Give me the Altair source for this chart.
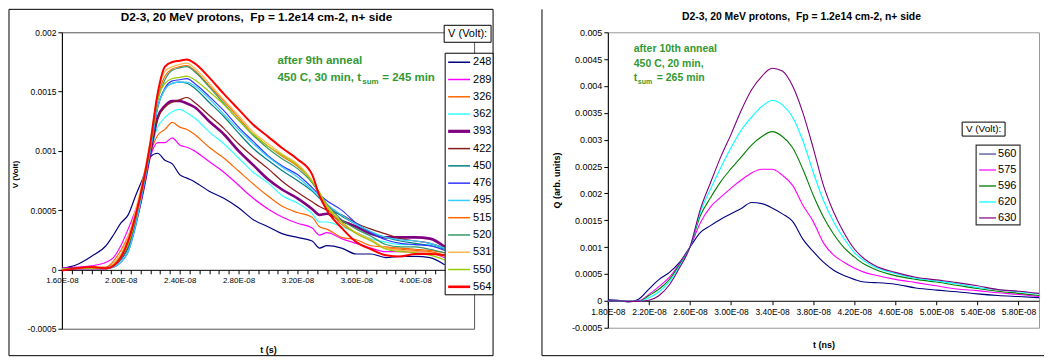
import altair as alt
import pandas as pd

FONT = "Liberation Sans"
GREEN = "#339933"
TITLE_TEXT = "D2-3, 20 MeV protons,\u00a0 Fp = 1.2e14 cm-2, n+ side"

# ---------------- Left panel data (t in ns, V in Volt) ----------------
T_LEFT = [16, 17, 18, 19, 19.5, 20, 20.5, 21, 21.5, 22, 22.5, 23, 23.5, 24, 24.5, 25,
          26, 27, 28, 29, 30, 31, 32, 33, 33.5, 34, 35, 36, 37, 38, 39, 40, 41, 42]

LEFT_SERIES = ["248", "289", "326", "362", "393", "422", "450", "476", "495", "515",
               "520", "531", "550", "564"]
LEFT_COLORS = ["#000080", "#FF00FF", "#FF6600", "#33FFFF", "#800080", "#8B1A1A", "#008080",
               "#3333FF", "#33CCFF", "#FF6600", "#339966", "#FFB84D", "#99CC00", "#FF0000"]
LEFT_WIDTHS = [1.2, 1.2, 1.2, 1.2, 2.6, 1.2, 1.2, 1.2, 1.2, 1.2, 1.2, 1.2, 1.2, 2.0]
LEFT_LEGEND_WIDTHS = [1.5, 1.5, 1.5, 1.5, 3.2, 1.5, 1.5, 1.5, 1.5, 1.5, 1.5, 1.5, 1.5, 2.6]

V248 = [0.00001, 0.00004, 0.00011, 0.0002, 0.00029, 0.00039, 0.00046, 0.00062, 0.00077, 0.00095,
        0.00098, 0.00092, 0.00089, 0.0008, 0.00077, 0.00074, 0.00066, 0.0006, 0.00052, 0.00042,
        0.00036, 0.0003, 0.00027, 0.00024, 0.00018, 0.0002, 0.00018, 0.00013, 0.00013, 0.0001,
        0.00011, 0.00011, 0.0001, 0.00004]
V289 = [0.00001, 0.00002, 0.00003, 0.00006, 0.0001, 0.0002, 0.00034, 0.0005, 0.00068, 0.00095,
        0.00107, 0.00107, 0.00111, 0.00105, 0.00103, 0.001, 0.00091, 0.00082, 0.00071, 0.0006,
        0.00051, 0.00044, 0.00039, 0.00035, 0.00029, 0.00031, 0.00026, 0.00022, 0.00018, 0.00015,
        0.00015, 0.00015, 0.00014, 0.0001]
V326 = [0.0, 0.00001, 0.00002, 0.00002, 0.00007, 0.00016, 0.00028, 0.00045, 0.00068, 0.00097,
        0.00113, 0.00118, 0.00124, 0.0012, 0.00118, 0.00114, 0.00103, 0.00094, 0.00083, 0.00072,
        0.00062, 0.00053, 0.00048, 0.00044, 0.00036, 0.00034, 0.00027, 0.00025, 0.0002, 0.00019,
        0.00018, 0.00017, 0.00016, 0.00014]
V362 = [0.0, 0.00001, 0.00001, 0.00001, 0.00005, 0.00013, 0.00025, 0.00043, 0.00067, 0.00098,
        0.0012, 0.00128, 0.00133, 0.00135, 0.00132, 0.00128, 0.00116, 0.00106, 0.00094, 0.00082,
        0.00073, 0.00062, 0.00056, 0.00047, 0.0004, 0.0004, 0.00036, 0.00031, 0.00026, 0.00023,
        0.00021, 0.00021, 0.00021, 0.00017]
V393 = [0.0, 0.00001, 0.00001, 0.00001, 0.00004, 0.0001, 0.00021, 0.0004, 0.00066, 0.00098,
        0.00128, 0.00138, 0.00142, 0.00142, 0.0014, 0.00137, 0.00125, 0.00114, 0.001, 0.00088,
        0.00076, 0.00067, 0.0006, 0.00051, 0.00046, 0.00047, 0.00041, 0.00036, 0.0003, 0.00027,
        0.00027, 0.00027, 0.00026, 0.00019]
V422 = [0.0, 0.00001, 0.00001, 0.00001, 0.00004, 0.0001, 0.0002, 0.00041, 0.00068, 0.001,
        0.00127, 0.00137, 0.00141, 0.00143, 0.00145, 0.00141, 0.0013, 0.00119, 0.00106, 0.00095,
        0.00085, 0.00074, 0.00065, 0.00057, 0.00053, 0.0005, 0.00046, 0.00039, 0.00034, 0.0003,
        0.00026, 0.00024, 0.00022, 0.00018]
V450 = [0.0, 0.00001, 0.00001, 0.00001, 0.00003, 0.00008, 0.00018, 0.00039, 0.00068, 0.00101,
        0.00136, 0.00152, 0.00157, 0.00158, 0.00157, 0.00153, 0.00141, 0.00129, 0.00115, 0.00102,
        0.00092, 0.00083, 0.00075, 0.00066, 0.0006, 0.00054, 0.00045, 0.00038, 0.00031, 0.00027,
        0.00024, 0.00022, 0.0002, 0.00017]
V476 = [0.0, 0.00001, 0.00001, 0.00001, 0.00002, 0.00006, 0.00015, 0.00036, 0.00065, 0.00099,
        0.00137, 0.00153, 0.00159, 0.0016, 0.00161, 0.00157, 0.00146, 0.00134, 0.0012, 0.00108,
        0.00096, 0.00087, 0.0008, 0.00069, 0.00063, 0.00058, 0.0005, 0.00039, 0.00031, 0.00025,
        0.00022, 0.00021, 0.0002, 0.00016]
V495 = [0.0, 0.00001, 0.00001, 0.00001, 0.00002, 0.00006, 0.00015, 0.00037, 0.00067, 0.001,
        0.00137, 0.00152, 0.00157, 0.00158, 0.00158, 0.00155, 0.00144, 0.00131, 0.00118, 0.00106,
        0.00095, 0.00086, 0.00078, 0.00067, 0.00061, 0.00055, 0.00046, 0.00038, 0.00032, 0.00027,
        0.00025, 0.00024, 0.00022, 0.00018]
V515 = [0.0, 0.00001, 0.00001, 0.00001, 0.00004, 0.00012, 0.00025, 0.00047, 0.00072, 0.00104,
        0.00145, 0.00163, 0.00169, 0.00171, 0.00172, 0.00168, 0.00155, 0.00142, 0.00128, 0.00114,
        0.00104, 0.00095, 0.00087, 0.00074, 0.00063, 0.00053, 0.00038, 0.00031, 0.00025, 0.00018,
        0.00017, 0.00016, 0.00015, 0.00012]
V520 = [0.0, 0.00001, 0.00001, 0.00001, 0.00003, 0.0001, 0.00022, 0.00043, 0.0007, 0.00102,
        0.00142, 0.0016, 0.00168, 0.0017, 0.00171, 0.00167, 0.00154, 0.0014, 0.00126, 0.00113,
        0.00102, 0.00093, 0.00085, 0.00073, 0.00064, 0.00055, 0.00042, 0.00034, 0.00028, 0.00021,
        0.00019, 0.00019, 0.00017, 0.00014]
V531 = [0.0, 0.00001, 0.00001, 0.00001, 0.00005, 0.00013, 0.00027, 0.0005, 0.00076, 0.00108,
        0.00148, 0.00167, 0.00171, 0.00173, 0.00174, 0.0017, 0.00157, 0.00143, 0.0013, 0.00116,
        0.00106, 0.00097, 0.00089, 0.00075, 0.00064, 0.00054, 0.0004, 0.00031, 0.00025, 0.00018,
        0.00016, 0.00015, 0.00014, 0.00011]
V550 = [0.0, 0.00001, 0.00001, 0.00001, 0.00003, 0.0001, 0.00021, 0.00043, 0.00072, 0.00104,
        0.00143, 0.00157, 0.00161, 0.00162, 0.00163, 0.0016, 0.0015, 0.00139, 0.00126, 0.00114,
        0.00104, 0.00096, 0.00088, 0.00074, 0.00065, 0.00053, 0.0004, 0.0003, 0.00024, 0.00017,
        0.00015, 0.00014, 0.00012, 0.00008]
V564 = [-0.00001, 0.00001, 0.00002, 0.00001, 0.00003, 0.0001, 0.00024, 0.00045, 0.00072, 0.00106,
        0.00148, 0.00171, 0.00175, 0.00176, 0.00177, 0.00174, 0.00162, 0.00148, 0.00135, 0.00122,
        0.00112, 0.00102, 0.00093, 0.0008, 0.00062, 0.0005, 0.00035, 0.00023, 0.00017, 0.00012,
        0.00011, 0.00013, 0.00013, 0.00012]
LEFT_VALUES = [V248, V289, V326, V362, V393, V422, V450, V476, V495, V515, V520, V531, V550, V564]

# ---------------- Right panel data (t in ns, Q in arb. units) ----------------
T_RIGHT = [18, 19, 20, 21, 22, 23, 24, 25, 26, 27, 28, 29, 30, 31, 32, 33, 34, 35, 36, 37, 38,
           39, 40, 41, 42, 43, 44, 46, 48, 50, 52, 54, 56, 58, 60]
RIGHT_SERIES = ["560", "575", "596", "620", "630"]
RIGHT_COLORS = ["#000080", "#FF00FF", "#008000", "#00FFFF", "#800080"]
RIGHT_LEGEND_COLORS = ["#6666AA", "#FF33FF", "#228B22", "#33FFFF", "#993399"]

Q560 = [0.00002, 0.00001, -0.00002, 0.00003, 0.00022, 0.0004, 0.00053, 0.00072, 0.001, 0.00127,
        0.0014, 0.00152, 0.00162, 0.00172, 0.00183, 0.00181, 0.00173, 0.00162, 0.00148, 0.00115,
        0.00092, 0.00072, 0.00057, 0.00047, 0.0004, 0.00035, 0.00034, 0.00031, 0.00024, 0.0002,
        0.00017, 0.00013, 0.0001, 0.00008, 0.00006]
Q575 = [0.0, 0.0, -0.00001, 0.0, 0.00012, 0.00027, 0.00044, 0.0007, 0.001, 0.00145, 0.00175,
        0.00193, 0.0021, 0.00225, 0.00238, 0.00245, 0.00245, 0.00234, 0.00215, 0.00178, 0.00148,
        0.00108, 0.00085, 0.00072, 0.00061, 0.00053, 0.00048, 0.0004, 0.00034, 0.00028, 0.00022,
        0.00019, 0.00015, 0.00012, 0.00008]
Q596 = [0.0, 0.0, -0.00001, -0.00001, 0.0001, 0.00022, 0.0004, 0.00068, 0.001, 0.00158, 0.00192,
        0.00222, 0.00246, 0.00268, 0.0029, 0.00306, 0.00315, 0.00306, 0.00285, 0.00245, 0.00197,
        0.00156, 0.00124, 0.00099, 0.00082, 0.00068, 0.00059, 0.00047, 0.0004, 0.00035, 0.00029,
        0.00023, 0.00018, 0.00014, 0.0001]
Q620 = [0.0, 0.0, -0.00001, -0.00001, 0.00006, 0.00017, 0.00036, 0.00065, 0.001, 0.00165, 0.00208,
        0.00248, 0.00285, 0.00318, 0.00342, 0.00362, 0.00373, 0.00365, 0.00342, 0.00298, 0.0024,
        0.00187, 0.00147, 0.00116, 0.0009, 0.00074, 0.00063, 0.00051, 0.00042, 0.00037, 0.00032,
        0.00025, 0.00021, 0.00017, 0.00013]
Q630 = [0.0, 0.0, -0.00001, -0.00001, 0.00001, 0.0001, 0.0003, 0.00062, 0.001, 0.0017, 0.0022,
        0.00268, 0.0031, 0.00355, 0.00393, 0.00418, 0.00433, 0.00428, 0.004, 0.0035, 0.00285,
        0.00215, 0.00165, 0.00127, 0.00097, 0.00078, 0.00066, 0.00053, 0.00044, 0.00039, 0.00034,
        0.00028, 0.00021, 0.00018, 0.00014]
RIGHT_VALUES = [Q560, Q575, Q596, Q620, Q630]

# ---------------- Axis tick lists ----------------
LEFT_XTICKS = [16 + k * 2 / 3 for k in range(43)]
LEFT_YTICKS = [-0.0005, 0.0, 0.0005, 0.001, 0.0015, 0.002]
RIGHT_XTICKS = [18, 22, 26, 30, 34, 38, 42, 46, 50, 54, 58]
RIGHT_YTICKS = [-0.0005, 0.0, 0.0005, 0.001, 0.0015, 0.002, 0.0025, 0.003, 0.0035, 0.004,
                0.0045, 0.005]

rows = []
for name, width, vals in zip(LEFT_SERIES, LEFT_WIDTHS, LEFT_VALUES):
    for t, v in zip(T_LEFT, vals):
        rows.append({"t": t, "v": v, "V": name, "w": width})
df_left = pd.DataFrame(rows)

rows = []
for name, vals in zip(RIGHT_SERIES, RIGHT_VALUES):
    for t, v in zip(T_RIGHT, vals):
        rows.append({"t": t, "q": v, "V": name})
df_right = pd.DataFrame(rows)

leg_left = pd.DataFrame({"name": LEFT_SERIES, "color": LEFT_COLORS,
                         "w": LEFT_LEGEND_WIDTHS, "i": list(range(len(LEFT_SERIES)))})
leg_right = pd.DataFrame({"name": RIGHT_SERIES, "color": RIGHT_LEGEND_COLORS,
                          "w": [1.5] * len(RIGHT_SERIES), "i": list(range(len(RIGHT_SERIES)))})

one = pd.DataFrame({"k": [0]})

YLABEL = "datum.value == 0 ? '0' : (datum.value < 0 ? '-' : '') + format(abs(datum.value), '~g')"
LEFT_XLABEL = ("round(datum.value * 3) % 12 == 0 && datum.value < 43 ? "
               "format(round(datum.value) / 10, '.2f') + 'E-08' : ''")
RIGHT_XLABEL = "format(datum.value / 10, '.2f') + 'E-08'"


def txt(text, x, y, size, weight="normal", color="black", align="left", baseline="alphabetic"):
    return alt.Chart(one).mark_text(
        text=text, font=FONT, fontSize=size, fontWeight=weight, color=color,
        align=align, baseline=baseline
    ).encode(x=alt.value(x), y=alt.value(y))


def box(x1, x2, y1, y2, color="black", width=1.0, fill=None):
    if fill:
        mk = alt.Chart(one).mark_rect(fill=fill, stroke=color, strokeWidth=width)
    else:
        mk = alt.Chart(one).mark_rect(filled=False, stroke=color, strokeWidth=width)
    return mk.encode(x=alt.value(x1), x2=alt.value(x2), y=alt.value(y1), y2=alt.value(y2))


def legend_layers(df, sx1, sx2, lx, rows_range, size):
    yenc = alt.Y("i:O", scale=alt.Scale(type="point", range=rows_range, padding=0), axis=None)
    rules = alt.Chart(df).mark_rule().encode(
        x=alt.value(sx1), x2=alt.value(sx2), y=yenc,
        color=alt.Color("color:N", scale=None),
        strokeWidth=alt.StrokeWidth("w:Q", scale=None))
    labels = alt.Chart(df).mark_text(
        font=FONT, fontSize=size, align="left", baseline="middle", color="black"
    ).encode(x=alt.value(lx), y=yenc, text="name:N")
    return alt.layer(rules, labels)


W1, H1 = 413, 297
W2, H2 = 432, 296

# ---------------- Left chart ----------------
left_lines = alt.Chart(df_left).mark_line(interpolate="monotone", clip=True).encode(
    x=alt.X("t:Q", scale=alt.Scale(domain=[16, 44], nice=False, zero=False),
            axis=alt.Axis(values=LEFT_XTICKS, labelExpr=LEFT_XLABEL, title="t (s)", offset=-59,
                          tickSize=4, labelFontSize=8, labelPadding=3, labelOverlap=False,
                          labelFlush=False, titleFontSize=9, titleFontWeight="bold",
                          titleY=80, titleBaseline="middle")),
    y=alt.Y("v:Q", scale=alt.Scale(domain=[-0.0005, 0.002], nice=False, zero=False),
            axis=alt.Axis(values=LEFT_YTICKS, labelExpr=YLABEL, title="V (Volt)", tickSize=4,
                          labelFontSize=8.5, labelPadding=2, titleFontSize=8,
                          titleFontWeight="bold", titleX=-46, titleY=142,
                          titleBaseline="middle")),
    color=alt.Color("V:N", scale=alt.Scale(domain=LEFT_SERIES, range=LEFT_COLORS), legend=None),
    strokeWidth=alt.StrokeWidth("w:Q", scale=None, legend=None),
)

left = alt.layer(
    box(-53, 432, -23, 324),
    left_lines,
    box(384, 432, 21, 263, fill="white"),
    legend_layers(leg_left, 387, 409, 412, [30, 255], 11),
    box(383, 430, -7, 10, fill="white"),
    txt("V (Volt):", 406.5, 1.5, 11, align="center", baseline="middle"),
    txt(TITLE_TEXT, 195, -11, 11.8, "bold", align="center"),
    txt("after 9th anneal", 216, 32, 11.5, "bold", GREEN),
    txt("450 C, 30 min, t", 216, 49, 11.5, "bold", GREEN),
    txt("sum", 301, 52, 8, "bold", GREEN),
    txt("= 245 min", 321, 49, 11.5, "bold", GREEN),
).resolve_scale(y="independent").properties(
    width=W1, height=H1, view=alt.ViewBackground(stroke="#555555", strokeWidth=1))

# ---------------- Right chart ----------------
right_lines = alt.Chart(df_right).mark_line(interpolate="monotone", clip=True, strokeWidth=1.1).encode(
    x=alt.X("t:Q", scale=alt.Scale(domain=[18, 60], nice=False, zero=False),
            axis=alt.Axis(values=RIGHT_XTICKS, labelExpr=RIGHT_XLABEL, title="t (ns)", offset=-27,
                          tickSize=4, labelFontSize=8.5, labelPadding=3, labelOverlap=False,
                          labelFlush=False, titleFontSize=9, titleFontWeight="bold",
                          titleY=44, titleBaseline="middle")),
    y=alt.Y("q:Q", scale=alt.Scale(domain=[-0.0005, 0.005], nice=False, zero=False),
            axis=alt.Axis(values=RIGHT_YTICKS, labelExpr=YLABEL, title="Q (arb. units)",
                          tickSize=4, labelFontSize=9, labelPadding=2, titleFontSize=9,
                          titleFontWeight="bold", titleX=-51, titleBaseline="middle")),
    color=alt.Color("V:N", scale=alt.Scale(domain=RIGHT_SERIES, range=RIGHT_COLORS), legend=None),
)

right = alt.layer(
    alt.Chart(one).mark_rule(color="black").encode(
        x=alt.value(-66), y=alt.value(-23), y2=alt.value(324)),
    alt.Chart(one).mark_rule(color="black").encode(
        x=alt.value(-66), x2=alt.value(437), y=alt.value(324)),
    right_lines,
    box(369, 413, 113, 193, color="#333333", width=1.2, fill="white"),
    legend_layers(leg_right, 372, 389, 391, [122, 186], 11),
    box(355, 398, 90, 104, fill="white"),
    txt("V (Volt):", 376.5, 97, 10, align="center", baseline="middle"),
    txt(TITLE_TEXT, 194, -12, 10.4, "bold", align="center"),
    txt("after 10th anneal", 26, 19.5, 10.5, "bold", GREEN),
    txt("450 C, 20 min,", 26, 34.5, 10.5, "bold", GREEN),
    txt("t", 26, 49, 10.5, "bold", GREEN),
    txt("sum", 30, 51.5, 7, "bold", GREEN),
    txt("= 265 min", 49, 49, 10.5, "bold", GREEN),
).resolve_scale(y="independent").properties(
    width=W2, height=H2, view=alt.ViewBackground(stroke="#999999", strokeWidth=1))

chart = alt.hconcat(left, right, spacing=134, bounds="flush").resolve_scale(
    color="independent", x="independent", y="independent"
).properties(
    padding=0, background="white"
).configure_axis(
    labelFont=FONT, titleFont=FONT, labelColor="black", titleColor="black",
    domainColor="black", tickColor="black", grid=False
).configure_view(stroke="#555555")

chart.save("out.html", embed_options={"renderer": "svg", "actions": False})
